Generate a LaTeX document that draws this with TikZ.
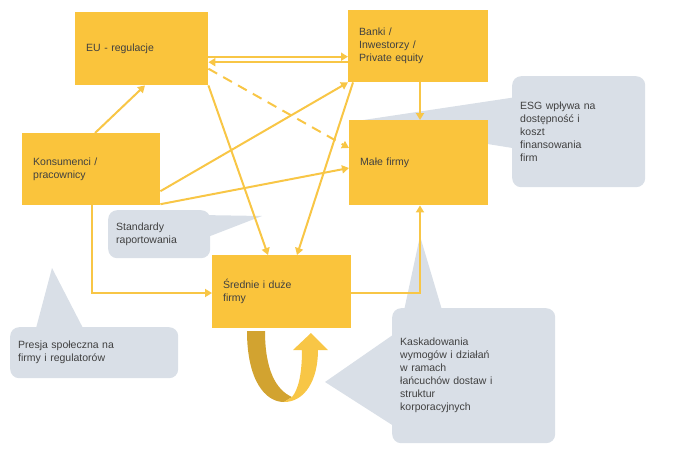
\documentclass[tikz,border=0pt]{standalone}
\usepackage{fontspec}
\setmainfont{Liberation Sans}
\usetikzlibrary{arrows.meta,positioning}
\definecolor{boxyellow}{HTML}{FAC43C}
\definecolor{arryellow}{HTML}{F8C646}
\definecolor{darkyellow}{HTML}{D2A330}
\definecolor{callgray}{HTML}{D9DFE7}
\definecolor{txtgray}{HTML}{404040}

\tikzset{
  firm/.style={fill=boxyellow,anchor=north west,align=left,text=txtgray,
    inner xsep=11pt,font=\fontsize{10.5}{13}\selectfont},
  callout/.style={fill=callgray,rounded corners=9pt,anchor=north west,align=left,
    text=txtgray,inner xsep=8pt,font=\fontsize{10.5}{13}\selectfont},
  flow/.style={draw=arryellow,line width=2pt,-{Triangle[length=7pt,width=8pt]}},
}

\begin{document}
\begin{tikzpicture}[x=1pt,y=-1pt]
  \useasboundingbox (0,0) rectangle (673,466);

  % pointers of the callouts
  \fill[callgray] (530,95) -- (350,122) -- (525,150) -- cycle;
  \fill[callgray] (200,215) -- (262,216) -- (200,240) -- cycle;
  \fill[callgray] (35,332) -- (52,268) -- (85,332) -- cycle;
  \fill[callgray] (402,320) -- (420,236) -- (445,320) -- cycle;
  \fill[callgray] (400,330) -- (325,382) -- (400,430) -- cycle;

  % firms
  \node[firm,minimum width=133pt,minimum height=73pt,text width=111pt] (eu) at (75,12) {EU - regulacje};
  \node[firm,minimum width=140pt,minimum height=72pt,text width=118pt,anchor=north west,inner ysep=3pt] (banki) at (348,10) {Banki /\\Inwestorzy /\\Private equity};
  \node[firm,minimum width=138pt,minimum height=72pt,text width=116pt] (kons) at (22,133) {Konsumenci /\\pracownicy};
  \node[firm,minimum width=139pt,minimum height=85pt,text width=117pt] (male) at (349,120) {Małe firmy};
  \node[firm,minimum width=139pt,minimum height=73pt,text width=117pt] (sred) at (212,255) {Średnie i duże\\firmy};

  % callouts
  \node[callout,minimum width=133pt,minimum height=111pt,text width=117pt] (esg) at (512,76) {ESG wpływa na\\dostępność i\\koszt\\finansowania\\firm};
  \node[callout,minimum width=102pt,minimum height=48pt,text width=86pt] (std) at (108,210) {Standardy\\raportowania};
  \node[callout,minimum width=168pt,minimum height=51pt,text width=152pt] (presja) at (10,327) {Presja społeczna na\\firmy i regulatorów};
  \node[callout,minimum width=163pt,minimum height=135pt,text width=147pt] (kask) at (392,308) {Kaskadowania\\wymogów i działań\\w ramach\\łańcuchów dostaw i\\struktur\\korporacyjnych};

  % flows
  \draw[flow] ([yshift=-8pt]eu.east) -- ([yshift=-8pt]eu.east -| banki.west);
  \draw[flow] ([yshift=-16pt]banki.west) -- ([yshift=-16pt]banki.west -| eu.east);
  \draw[flow,dashed,dash pattern=on 10pt off 7pt] ([yshift=-20pt]eu.east) -- ([yshift=-28pt]male.north west);
  \draw[flow] ([yshift=-22pt]kons.east) -- (banki.south west);
  \draw[flow] ([yshift=-35pt]kons.east) -- ([yshift=-48pt]male.north west);
  \draw[flow] ([xshift=73pt]kons.north west) -- ([xshift=70pt]eu.south west);
  \draw[flow] (eu.south east) -- ([xshift=56pt]sred.north west);
  \draw[flow] ([xshift=5pt]banki.south west) -- ([xshift=85pt]sred.north west);
  \draw[flow] ([xshift=72pt]banki.south west) -- ([xshift=71pt]male.north west);
  \draw[flow] ([xshift=70pt]kons.south west) |- ([yshift=-38pt]sred.north west);
  \draw[flow] ([yshift=-38pt]sred.north east) -| ([xshift=71pt]male.south west);

  % loop below the big firms
  \fill[darkyellow] (247,331) .. controls (247,380) and (265,402) .. (284,402)
    -- (292,397) .. controls (276,390) and (265,370) .. (265,331) -- cycle;
  \fill[arryellow] (284,402) .. controls (305,402) and (318,380) .. (318,350)
    -- (328,350) -- (311,333) -- (293,350) -- (302,350)
    .. controls (302,375) and (298,390) .. (292,397) -- cycle;
\end{tikzpicture}
\end{document}
